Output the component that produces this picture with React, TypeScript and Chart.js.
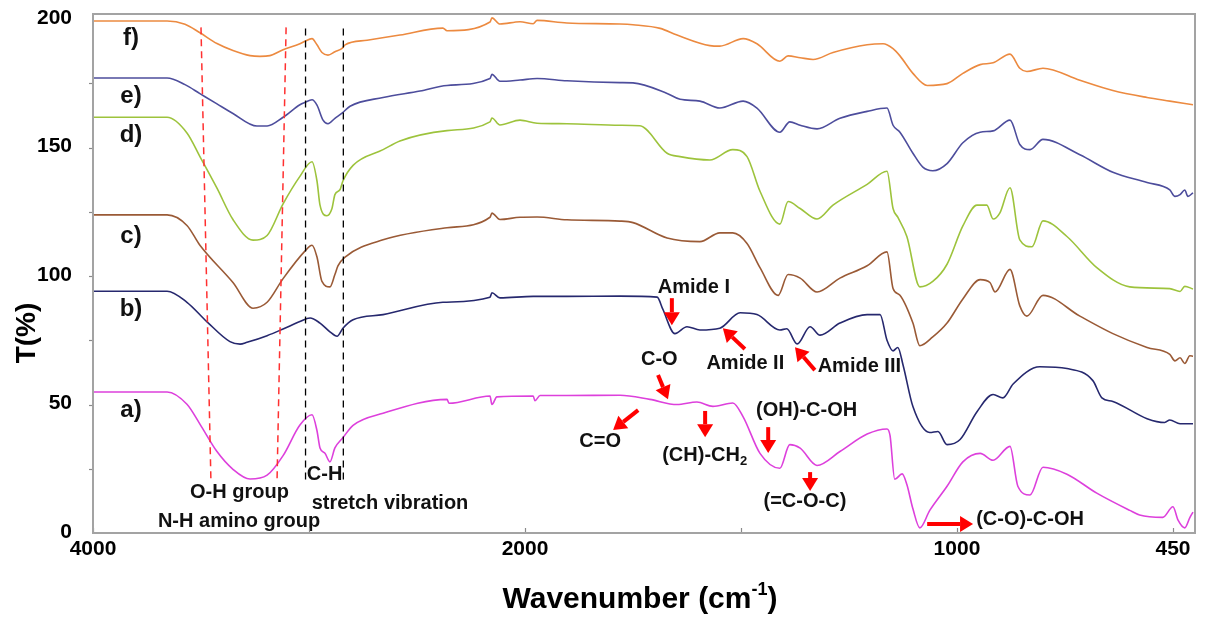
import React, { useEffect, useRef } from 'react';
import { Chart, registerables } from 'chart.js';

Chart.register(...registerables);

const FONT = '"Liberation Sans", Arial, sans-serif';

// split wavenumber axis: breakpoints and their positions on the axis
const AXIS_BREAKS = [4000, 2000, 1000, 450];
const AXIS_POS = [0, 2, 4, 5];
const X_TICK_POS = [0, 1, 2, 3, 4, 5];
const X_TICK_LABELS = ['4000', '', '2000', '', '1000', '450'];
const Y_TICKS = [0, 50, 100, 150, 200];

// ---- spectra (wavenumber cm-1, transmittance %) ----
const wnF = [4000,3657,3574,3505,3426,3352,3273,3227,3181,3120,3042,3019,2986,2963,2940,2912,2880,2847,2833,2731,2579,2380,2361,2162,2153,2116,2023,1981,1972,1903,1780,1750,1687,1648,1572,1549,1495,1463,1410,1391,1363,1333,1287,1208,1171,1148,1132,1102,1069,1023,985,941,908,865,840,822,781,687,603,516,458,399];
const tF = [199.3,199.3,198,194.7,190.5,187.8,185.8,185.5,185.8,188.1,190.4,191.4,192.4,190,187,186,187.3,188.6,190,191.8,193.8,196.5,195.5,198.9,200.5,198.1,199,198.2,199.5,198.5,198.1,197.8,196.4,193.8,189.7,189.5,192.4,190.4,183.6,185.7,185,184.3,187,190,190.4,188.5,185.7,178.9,174.2,174.9,178.9,182.3,183,186.4,180.9,179.6,180.9,176.2,172.2,169.5,168.1,166.7];

const wnE = [4000,3657,3574,3505,3426,3352,3241,3194,3120,3042,3019,2986,2963,2935,2912,2880,2847,2810,2657,2486,2361,2162,2153,2116,2023,1972,1903,1780,1750,1671,1641,1595,1549,1495,1463,1410,1387,1363,1324,1271,1208,1162,1148,1132,1102,1079,1056,1023,985,941,908,865,840,814,781,687,603,516,458,445,432,420,412,399];
const tE = [177.1,177.1,174.5,171,167,163.3,158.4,158.4,161.8,166.7,167.6,168.6,166.5,160.7,159.3,161.4,163.4,166.1,169.5,172,174.2,176.9,178.5,175.8,176.3,176.9,176,175.3,175.2,171.1,168.8,168.1,165.4,168.1,165.4,156,160,158.7,157.3,161.4,164.1,165.4,158.7,156,147.8,142.4,141,143.8,151.9,156,156.5,160.7,151.2,149.2,153.2,147.2,140.4,136.4,133.5,131,131.7,133.5,131,132.4];

const wnD = [4000,3657,3565,3505,3426,3352,3259,3194,3120,3042,2986,2963,2949,2917,2894,2880,2856,2843,2796,2657,2579,2361,2162,2153,2116,2023,1972,1903,1780,1734,1671,1641,1572,1519,1486,1456,1410,1391,1363,1324,1287,1208,1162,1148,1137,1116,1086,1056,1023,985,949,924,908,891,865,840,809,781,720,644,560,458,432,420,399];
const tD = [161.8,161.8,155.7,146.5,134.2,122,114,115.8,128.1,138.8,144.5,137,127.6,123.5,126.2,131.7,133.7,137,143.1,149.2,152.6,156.6,160,161.5,158.8,160.7,159.5,159.3,158.7,158.5,147.8,146.5,145.2,149.2,146.5,133,120.2,129,126.3,122.2,127.6,135.7,140.8,126.3,122.9,115.4,95.8,97.9,104.6,119.5,127.6,127.6,122.2,124.5,134.4,114.1,111.4,121.5,115.4,103.3,95.8,95.1,94,96,95];

const wnC = [4000,3657,3565,3505,3352,3259,3194,3120,3019,2986,2963,2940,2903,2880,2866,2833,2657,2361,2162,2153,2116,2023,1972,1903,1780,1750,1671,1595,1549,1519,1486,1456,1414,1391,1363,1324,1271,1208,1162,1148,1132,1102,1086,1056,1023,985,941,916,903,865,840,822,781,687,603,516,458,445,432,420,407,399];
const tC = [123.8,123.8,119.7,112,97.5,87.5,89.8,99,109.7,112,107.4,97.9,95.8,100.6,104,107.4,114.1,118.8,122.9,124.5,122,122.9,123,121.9,121.4,120.8,114.8,113.4,116.8,116.8,112.7,103.3,92.5,100.6,99.2,93.8,99.2,104,109.4,95.2,92.5,81.7,72.9,76.3,81.7,91.1,98.6,97.5,93.8,102.6,88.4,84.4,92.5,84.4,77.6,72.2,69.5,67,68.2,66,69,68.8];

const wnB = [4000,3657,3565,3472,3366,3319,3287,3194,3120,3042,2995,2949,2903,2870,2843,2796,2657,2380,2162,2153,2116,1981,1903,1780,1694,1681,1653,1625,1595,1549,1502,1463,1410,1394,1370,1340,1317,1271,1208,1178,1162,1148,1137,1125,1102,1063,1044,1023,992,949,908,883,857,789,720,654,631,603,516,471,458,432,399];
const tB = [94.1,94.1,89.8,82.2,74.5,73.5,74.2,76.8,79.4,82.3,83.7,81.7,78.3,76.6,79.7,83,85,89.8,91.8,93.5,91.5,92.1,92.1,92.2,91.8,87.1,77.6,80.3,79,79.7,85.7,85,79,79.5,73.6,80.3,77,81.7,85,85,75,70.9,72.2,65.5,49.2,39.1,39.5,34.4,36.4,47.2,53.9,52.6,58,64.7,64,59.3,52.6,51.2,44.5,43,44,42.5,42.5];

const wnA = [4000,3657,3565,3505,3426,3352,3273,3194,3120,3042,2986,2963,2949,2926,2903,2880,2843,2796,2657,2361,2352,2162,2153,2130,1981,1977,1965,1903,1780,1711,1648,1602,1565,1519,1495,1456,1410,1387,1363,1324,1271,1208,1162,1155,1144,1127,1116,1102,1086,1063,1023,985,941,908,865,845,814,781,720,644,560,535,476,450,437,420,407,399];
const tA = [54.9,54.9,50.1,42.4,31.7,24.8,21,22.5,30.1,42,46,39.8,33.1,31,27.7,33.1,37.1,41.9,46.6,52,50.5,53.3,50,53,53.3,51.5,53.5,53.5,53.6,52,50,51,49.3,50.6,45.2,31,25.2,34.4,33,26.3,31.7,38.5,40.5,38,20.9,23,18.9,9.4,2,8.8,18.2,27.7,31,28.3,33.7,18.2,14.8,25.6,22.9,15.5,8.8,7,6.1,10.2,5,2,6,8.1];

const SERIES_NAMES = ['a)', 'b)', 'c)', 'd)', 'e)', 'f)'];
const SERIES_WN = [wnA, wnB, wnC, wnD, wnE, wnF];
const SERIES_T = [tA, tB, tC, tD, tE, tF];
const SERIES_COLORS = ['#dd40dc', '#26286e', '#9a5a36', '#9dc33c', '#4d4d9c', '#ec8a40'];
// series label anchor (wavenumber, T)
const SERIES_LABEL_WN = 3824;
const SERIES_LABEL_T = [47.8, 87.1, 115.5, 154.8, 170, 192.5];

// annotations in data units
const NOTE_TEXTS: [string, number, number][] = [
  ['Amide I', 1609, 95.7],
  ['C-O', 1689, 67.7],
  ['Amide II', 1490, 66.1],
  ['Amide III', 1226, 65],
  ['C=O', 1826, 35.8],
  ['(OH)-C-OH', 1348, 47.5],
  ['(=C-O-C)', 1352, 12.1],
  ['(C-O)-C-OH', 814, 5.1],
  ['O-H group', 3322, 15.6],
  ['N-H amino group', 3324, 4.3],
  ['C-H', 2928, 22.6],
  ['stretch vibration', 2625, 11.3],
];
const CH2_NOTE: [number, number] = [1584, 30.3];
const NOTE_ARROWS: [number, number, number, number][] = [
  [1660, 91.4, 1660, 80.9],
  [1692, 61.5, 1669, 52.1],
  [1491, 71.6, 1542, 79.7],
  [1329, 63.4, 1375, 72.3],
  [1738, 47.8, 1796, 40.1],
  [1583, 47.5, 1583, 37.3],
  [1437, 41.2, 1437, 31.1],
  [1340, 23.7, 1340, 16.3],
  [1069, 3.5, 959, 3.5],
];
const RED_DASHES: [number, number, number, number][] = [
  [3500, 196.8, 3454, 20.2],
  [3106, 196.8, 3148, 20.2],
];
const BLACK_DASHES: [number, number, number, number][] = [
  [3016, 196.4, 3016, 19.4],
  [2841, 196.4, 2841, 19.4],
];

function wnToPos(wn: number): number {
  for (let i = 0; i < AXIS_BREAKS.length - 1; i++) {
    const a = AXIS_BREAKS[i];
    const b = AXIS_BREAKS[i + 1];
    if (wn >= b || i === AXIS_BREAKS.length - 2) {
      return AXIS_POS[i] + ((a - wn) / (a - b)) * (AXIS_POS[i + 1] - AXIS_POS[i]);
    }
  }
  return 0;
}

function drawArrow(ctx: CanvasRenderingContext2D, x1: number, y1: number, x2: number, y2: number) {
  const ang = Math.atan2(y2 - y1, x2 - x1);
  const headLen = 13;
  const headHalf = 8;
  const bx = x2 - headLen * Math.cos(ang);
  const by = y2 - headLen * Math.sin(ang);
  ctx.beginPath();
  ctx.moveTo(x1, y1);
  ctx.lineTo(bx, by);
  ctx.lineWidth = 4;
  ctx.strokeStyle = '#ff0000';
  ctx.stroke();
  ctx.beginPath();
  ctx.moveTo(x2, y2);
  ctx.lineTo(bx + headHalf * Math.sin(ang), by - headHalf * Math.cos(ang));
  ctx.lineTo(bx - headHalf * Math.sin(ang), by + headHalf * Math.cos(ang));
  ctx.closePath();
  ctx.fillStyle = '#ff0000';
  ctx.fill();
}

const annotationPlugin = {
  id: 'ftirAnnotations',
  afterDatasetsDraw(chart: any) {
    const { ctx, scales } = chart;
    const xs = scales.x;
    const ys = scales.y;
    const px = (wn: number) => xs.getPixelForValue(wnToPos(wn));
    const py = (t: number) => ys.getPixelForValue(t);
    ctx.save();
    // dashed guide lines
    ctx.setLineDash([7, 5]);
    ctx.lineWidth = 1.5;
    ctx.strokeStyle = '#ff3030';
    RED_DASHES.forEach(([w1, t1, w2, t2]) => {
      ctx.beginPath();
      ctx.moveTo(px(w1), py(t1));
      ctx.lineTo(px(w2), py(t2));
      ctx.stroke();
    });
    ctx.lineWidth = 1.3;
    ctx.strokeStyle = '#000000';
    BLACK_DASHES.forEach(([w1, t1, w2, t2]) => {
      ctx.beginPath();
      ctx.moveTo(px(w1), py(t1));
      ctx.lineTo(px(w2), py(t2));
      ctx.stroke();
    });
    ctx.setLineDash([]);
    // arrows
    NOTE_ARROWS.forEach(([w1, t1, w2, t2]) => drawArrow(ctx, px(w1), py(t1), px(w2), py(t2)));
    // texts
    ctx.fillStyle = '#111111';
    ctx.textAlign = 'center';
    ctx.textBaseline = 'middle';
    ctx.font = `bold 20px ${FONT}`;
    NOTE_TEXTS.forEach(([s, w, t]) => ctx.fillText(s, px(w), py(t)));
    // (CH)-CH2 with subscript
    {
      const main = '(CH)-CH';
      ctx.font = `bold 20px ${FONT}`;
      const wMain = ctx.measureText(main).width;
      ctx.font = `bold 13px ${FONT}`;
      const wSub = ctx.measureText('2').width;
      const cx = px(CH2_NOTE[0]);
      const cy = py(CH2_NOTE[1]);
      const left = cx - (wMain + wSub) / 2;
      ctx.textAlign = 'left';
      ctx.font = `bold 20px ${FONT}`;
      ctx.fillText(main, left, cy);
      ctx.font = `bold 13px ${FONT}`;
      ctx.fillText('2', left + wMain, cy + 6);
      ctx.textAlign = 'center';
    }
    // series labels
    ctx.font = `bold 24px ${FONT}`;
    SERIES_NAMES.forEach((n, i) => ctx.fillText(n, px(SERIES_LABEL_WN), py(SERIES_LABEL_T[i])));
    ctx.restore();
  },
  afterDraw(chart: any) {
    const { ctx, chartArea: ca, scales } = chart;
    const xs = scales.x;
    const ys = scales.y;
    ctx.save();
    // tick marks
    ctx.strokeStyle = '#8a8a8a';
    ctx.lineWidth = 1.2;
    X_TICK_POS.forEach((p) => {
      const x = Math.round(xs.getPixelForValue(p)) + 0.5;
      ctx.beginPath();
      ctx.moveTo(x, ca.bottom);
      ctx.lineTo(x, ca.bottom - 5);
      ctx.stroke();
    });
    for (let v = 25; v < 200; v += 25) {
      const y = Math.round(ys.getPixelForValue(v)) + 0.5;
      ctx.beginPath();
      ctx.moveTo(ca.left - 4, y);
      ctx.lineTo(ca.left, y);
      ctx.stroke();
    }
    // y tick labels
    ctx.fillStyle = '#000000';
    ctx.textAlign = 'right';
    ctx.textBaseline = 'middle';
    ctx.font = `bold 21px ${FONT}`;
    Y_TICKS.forEach((v) => ctx.fillText(String(v), ca.left - 21, ys.getPixelForValue(v) - 1));
    // frame
    ctx.strokeStyle = '#a3a3a3';
    ctx.lineWidth = 2;
    ctx.strokeRect(ca.left, ca.top, ca.right - ca.left, ca.bottom - ca.top);
    // axis titles
    ctx.fillStyle = '#000000';
    ctx.textBaseline = 'middle';
    ctx.font = `bold 30px ${FONT}`;
    const t1 = 'Wavenumber (cm';
    const w1 = ctx.measureText(t1).width;
    ctx.font = `bold 18px ${FONT}`;
    const w2 = ctx.measureText('-1').width;
    ctx.font = `bold 30px ${FONT}`;
    const w3 = ctx.measureText(')').width;
    const total = w1 + w2 + w3;
    const cx = 640;
    const cy = 600;
    const x0 = cx - total / 2;
    ctx.textAlign = 'left';
    ctx.fillText(t1, x0, cy);
    ctx.font = `bold 18px ${FONT}`;
    ctx.fillText('-1', x0 + w1, cy - 10);
    ctx.font = `bold 30px ${FONT}`;
    ctx.fillText(')', x0 + w1 + w2, cy);
    // y title
    ctx.translate(27, 333);
    ctx.rotate(-Math.PI / 2);
    ctx.textAlign = 'center';
    ctx.font = `bold 28px ${FONT}`;
    ctx.fillText('T(%)', 0, 0);
    ctx.restore();
  },
};

export default function App() {
  const canvasRef = useRef<HTMLCanvasElement | null>(null);

  useEffect(() => {
    const canvas = canvasRef.current;
    if (!canvas) return;
    const datasets = SERIES_NAMES.map((name, i) => ({
      label: name,
      data: SERIES_WN[i].map((w, j) => ({ x: wnToPos(w), y: SERIES_T[i][j] })),
      borderColor: SERIES_COLORS[i],
      backgroundColor: SERIES_COLORS[i],
      borderWidth: 1.6,
      pointRadius: 0,
      fill: false,
      cubicInterpolationMode: 'monotone' as const,
    }));
    const chart = new Chart(canvas, {
      type: 'line',
      data: { datasets },
      options: {
        animation: false,
        responsive: false,
        maintainAspectRatio: false,
        layout: { padding: { left: 0, right: 15, top: 14, bottom: 0 } },
        plugins: { legend: { display: false }, tooltip: { enabled: false }, title: { display: false } },
        scales: {
          x: {
            type: 'linear',
            min: 0,
            max: 5.102,
            grid: { display: false, drawTicks: false },
            border: { display: false },
            afterBuildTicks: (scale: any) => {
              scale.ticks = [0, 2, 4, 5].map((v) => ({ value: v }));
            },
            afterFit: (scale: any) => {
              scale.height = 84;
            },
            ticks: {
              autoSkip: false,
              maxRotation: 0,
              padding: 4,
              color: '#000000',
              font: { family: FONT, size: 21, weight: 'bold' },
              callback: (v: any) => X_TICK_LABELS[Math.round(Number(v))] ?? '',
            },
          },
          y: {
            type: 'linear',
            min: 0,
            max: 202,
            grid: { display: false, drawTicks: false },
            border: { display: false },
            afterBuildTicks: (scale: any) => {
              scale.ticks = Y_TICKS.map((v) => ({ value: v }));
            },
            afterFit: (scale: any) => {
              scale.width = 93;
            },
            ticks: { display: false },
          },
        },
      },
      plugins: [annotationPlugin],
    });
    return () => chart.destroy();
  }, []);

  return (
    <div style={{ position: 'fixed', left: 0, top: 0, width: 1210, height: 617, background: '#ffffff' }}>
      <canvas ref={canvasRef} width={1210} height={617} style={{ width: 1210, height: 617, display: 'block' }} />
    </div>
  );
}
